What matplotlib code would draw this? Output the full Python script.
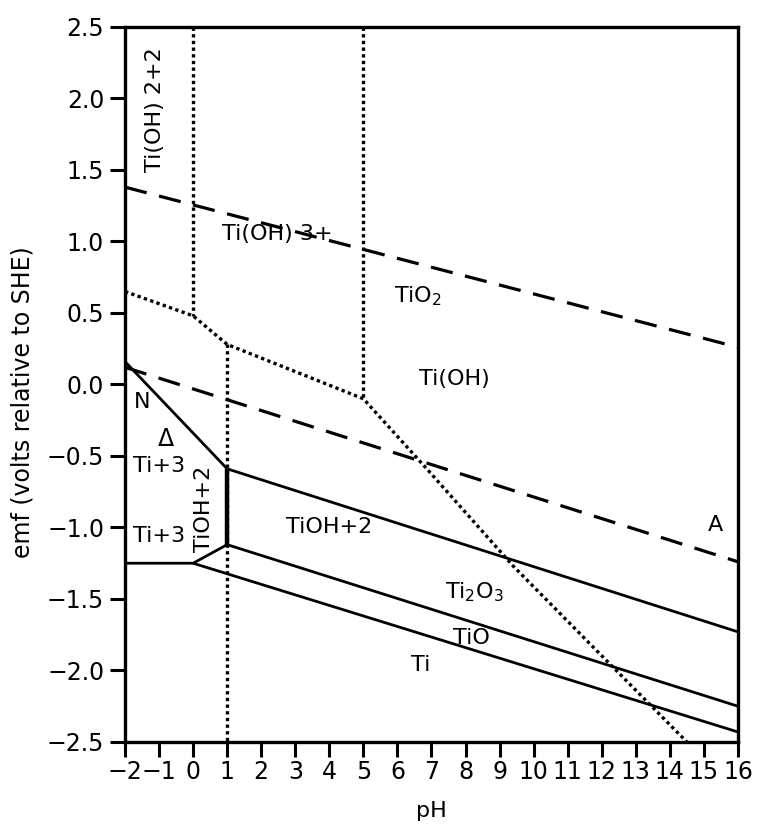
import numpy as np
import matplotlib
matplotlib.use('Agg')
import matplotlib.pyplot as plt

# boundaries (pH, emf in V)
o2_ph = [-2, 16]
o2_emf = [1.38, 0.26]
h2_ph = [-2, 16]
h2_emf = [0.12, -1.24]

dot_v0_ph = [0, 0]
dot_v0_emf = [2.5, 0.48]
dot_v5_ph = [5, 5]
dot_v5_emf = [2.5, -0.10]
dot_v1_ph = [1, 1]
dot_v1_emf = [0.28, -2.5]
dot_brk_ph = [-2, 0, 1, 5, 6.9, 9.4, 14.5]
dot_brk_emf = [0.65, 0.48, 0.28, -0.10, -0.60, -1.27, -2.5]

ti3_ph = [-2, 1]
ti3_emf = [0.16, -0.59]
tioh_v_ph = [1, 1]
tioh_v_emf = [-0.59, -1.12]
ti2o3_ph = [1, 16]
ti2o3_emf = [-0.59, -1.73]
ti_h_ph = [-2, 0, 1]
ti_h_emf = [-1.25, -1.25, -1.12]
tio_top_ph = [1, 16]
tio_top_emf = [-1.12, -2.25]
ti_low_ph = [0, 16]
ti_low_emf = [-1.25, -2.43]

xticks = np.arange(-2, 17, 1)
yticks = np.arange(-2.5, 2.51, 0.5)

fig = plt.figure(figsize=(7.59, 8.27), dpi=100)
ax = fig.add_axes([0.1647, 0.1028, 0.8076, 0.8646])

dash = (0, (7, 4))
dot = (0, (1, 1))

ax.plot(o2_ph, o2_emf, color='black', lw=2.3, linestyle=dash)
ax.plot(h2_ph, h2_emf, color='black', lw=2.3, linestyle=dash)

for px, py in [(dot_v0_ph, dot_v0_emf), (dot_v5_ph, dot_v5_emf),
               (dot_v1_ph, dot_v1_emf), (dot_brk_ph, dot_brk_emf)]:
    ax.plot(px, py, color='black', lw=2.4, linestyle=dot)

for px, py in [(ti3_ph, ti3_emf), (ti2o3_ph, ti2o3_emf), (ti_h_ph, ti_h_emf),
               (tio_top_ph, tio_top_emf), (ti_low_ph, ti_low_emf)]:
    ax.plot(px, py, color='black', lw=2, solid_capstyle='butt')
ax.plot(tioh_v_ph, tioh_v_emf, color='black', lw=3.2, solid_capstyle='butt')

fs = 16
ax.text(-1.11, 1.92, 'Ti(OH) 2+2', rotation=90, fontsize=fs, ha='center', va='center')
ax.text(2.47, 1.05, 'Ti(OH) 3+', fontsize=fs, ha='center', va='center')
ax.text(6.6, 0.62, 'TiO$_2$', fontsize=fs, ha='center', va='center')
ax.text(7.66, 0.04, 'Ti(OH)', fontsize=fs, ha='center', va='center')
ax.text(-1.5, -0.12, 'N', fontsize=fs, ha='center', va='center')
ax.text(-0.8, -0.38, 'Δ', fontsize=17, ha='center', va='center')
ax.text(-1.0, -0.57, 'Ti+3', fontsize=fs, ha='center', va='center')
ax.text(-1.0, -1.06, 'Ti+3', fontsize=fs, ha='center', va='center')
ax.text(0.33, -0.87, 'TiOH+2', rotation=90, fontsize=fs, ha='center', va='center')
ax.text(4.0, -1.0, 'TiOH+2', fontsize=fs, ha='center', va='center')
ax.text(8.26, -1.45, 'Ti$_2$O$_3$', fontsize=fs, ha='center', va='center')
ax.text(8.17, -1.77, 'TiO', fontsize=fs, ha='center', va='center')
ax.text(6.67, -1.96, 'Ti', fontsize=fs, ha='center', va='center')
ax.text(15.33, -0.98, 'A', fontsize=fs, ha='center', va='center')

ax.set_xlim(-2, 16)
ax.set_ylim(-2.5, 2.5)
ax.set_xticks(xticks)
ax.set_xticklabels([str(v).replace('-', '\u2212') for v in xticks])
ax.set_yticks(yticks)
ax.set_yticklabels([('%.1f' % v).replace('-', '\u2212') for v in yticks])
ax.tick_params(direction='out', length=11, width=2.2, labelsize=17)
ax.tick_params(axis='x', pad=2)
ax.tick_params(axis='y', pad=4)
for s in ax.spines.values():
    s.set_linewidth(2.4)

ax.set_xlabel('pH', fontsize=16, labelpad=12)
ax.set_ylabel('emf (volts relative to SHE)', fontsize=17)
ax.yaxis.set_label_coords(-0.148, 0.476)

fig.savefig('out.png', dpi=100)
